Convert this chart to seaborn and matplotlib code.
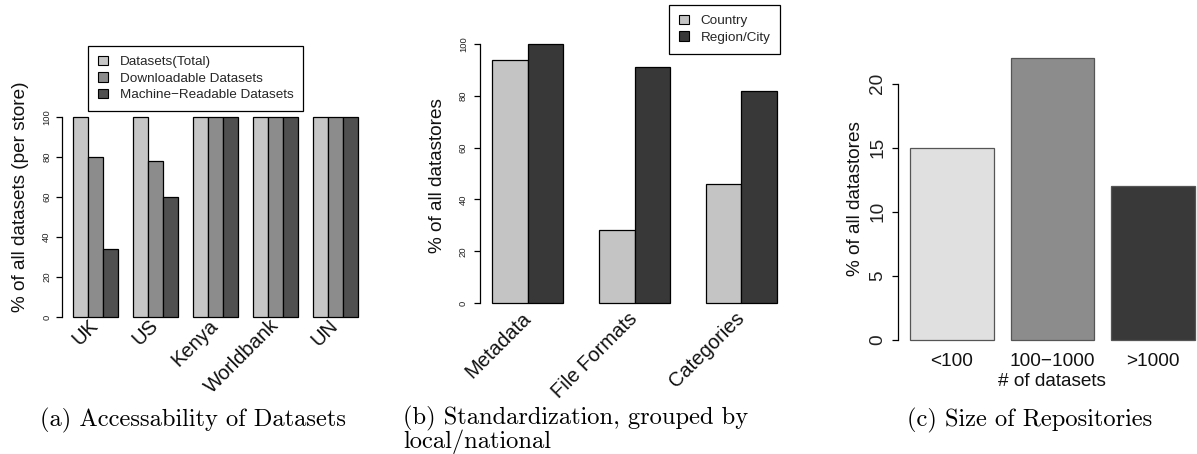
import numpy as np
import pandas as pd
import matplotlib
matplotlib.use("Agg")
import matplotlib.pyplot as plt
from matplotlib.patches import Patch
import seaborn as sns

# ---------------- data ----------------
stores = ["UK", "US", "Kenya", "Worldbank", "UN"]
access_types = ["Datasets(Total)", "Downloadable Datasets", "Machine\u2212Readable Datasets"]
total_pct = [100, 100, 100, 100, 100]
download_pct = [80, 78, 100, 100, 100]
machine_pct = [34, 60, 100, 100, 100]

std_aspects = ["Metadata", "File Formats", "Categories"]
scopes = ["Country", "Region/City"]
country_pct = [94, 28, 46]
region_pct = [100, 91, 82]

size_bins = ["<100", "100\u22121000", ">1000"]
size_pct = [15, 22, 12]

caption_a = "(a) Accessability of Datasets"
caption_b = "(b) Standardization, grouped by\nlocal/national"
caption_c = "(c) Size of Repositories"

# ---------------- style ----------------
sns.set_theme(style="white")
plt.rcParams["font.family"] = ["Liberation Sans", "DejaVu Sans"]
plt.rcParams["axes.unicode_minus"] = True

W, H = 1197, 454
DPI = 100
fig = plt.figure(figsize=(W / DPI, H / DPI), dpi=DPI)
fig.patch.set_facecolor("white")


def px_axes(x0, y0, x1, y1):
    return fig.add_axes([x0 / W, 1 - y1 / H, (x1 - x0) / W, (y1 - y0) / H])


def style_r_axis(ax, lo, hi, ticks, fs, pad, ylab, lab_x_px, lab_y_px, box):
    x0, y0, x1, y1 = box
    for s in ["top", "right", "bottom"]:
        ax.spines[s].set_visible(False)
    ax.spines["left"].set_bounds(lo, hi)
    ax.spines["left"].set_linewidth(0.9)
    ax.spines["left"].set_color("black")
    ax.set_yticks(ticks)
    ax.tick_params(axis="y", left=True, length=4, width=0.9, color="black",
                   labelsize=fs, pad=pad, labelcolor="#222222")
    for t in ax.get_yticklabels():
        t.set_rotation(90)
        t.set_ha("center")
        t.set_va("center")
    ax.set_ylabel(ylab, fontsize=13.7, va="center", color="#111111")
    ax.yaxis.set_label_coords((lab_x_px - x0) / (x1 - x0), (y1 - lab_y_px) / (y1 - y0))
    ax.grid(False)
    ax.set_facecolor("none")


def r_legend(ax, colors, labels, x_px, y_px):
    leg = ax.legend(handles=[Patch(facecolor=c, edgecolor="black", linewidth=0.8) for c in colors],
                    labels=labels, loc="upper left",
                    bbox_to_anchor=(x_px / W, 1 - y_px / H), bbox_transform=fig.transFigure,
                    borderaxespad=0, fontsize=9.7, frameon=True, fancybox=False,
                    handlelength=0.75, handleheight=0.7, handletextpad=0.85,
                    labelspacing=0.3, borderpad=0.74)
    leg.get_frame().set_edgecolor("black")
    leg.get_frame().set_linewidth(0.9)
    leg.get_frame().set_alpha(1)
    return leg


# ---------------- panel (a) ----------------
box_a = (62, 67, 369, 326.6)
ax_a = px_axes(*box_a)
df_a = pd.DataFrame({
    "store": stores * 3,
    "type": [access_types[0]] * 5 + [access_types[1]] * 5 + [access_types[2]] * 5,
    "value": total_pct + download_pct + machine_pct,
})
pal_a = ["#C6C6C6", "#8C8C8C", "#505050"]
sns.barplot(data=df_a, x="store", y="value", hue="type", order=stores,
            hue_order=access_types, palette=pal_a, width=0.75, gap=0,
            saturation=1, edgecolor="black", linewidth=0.9, errorbar=None,
            legend=False, ax=ax_a)
ax_a.set_xlim(-0.558, 4.558)
ax_a.set_ylim(-4.8, 124.8)
style_r_axis(ax_a, 0, 100, [0, 20, 40, 60, 80, 100], 6.8, 7.0,
             "% of all datasets (per store)", 21, 197, box_a)
ax_a.set_xlabel("")
ax_a.set_xticks(range(len(stores)))
ax_a.set_xticklabels(stores, fontsize=14.5, rotation=45, ha="right", va="center",
                     rotation_mode="anchor", color="#111111")
ax_a.tick_params(axis="x", bottom=False, pad=-9)
r_legend(ax_a, pal_a, access_types, 88, 46)

# ---------------- panel (b) ----------------
box_b = (480, 33.6, 789, 313.4)
ax_b = px_axes(*box_b)
df_b = pd.DataFrame({
    "aspect": std_aspects * 2,
    "scope": [scopes[0]] * 3 + [scopes[1]] * 3,
    "value": country_pct + region_pct,
})
pal_b = ["#C4C4C4", "#383838"]
sns.barplot(data=df_b, x="aspect", y="value", hue="scope", order=std_aspects,
            hue_order=scopes, palette=pal_b, width=2 / 3, gap=0, saturation=1,
            edgecolor="black", linewidth=0.9, errorbar=None, legend=False, ax=ax_b)
ax_b.set_xlim(-0.445, 2.445)
ax_b.set_ylim(-4, 104)
style_r_axis(ax_b, 0, 100, [0, 20, 40, 60, 80, 100], 6.8, 8.0,
             "% of all datastores", 437, 176, box_b)
ax_b.set_xlabel("")
ax_b.set_xticks(range(len(std_aspects)))
ax_b.set_xticklabels(std_aspects, fontsize=14.5, rotation=45, ha="right", va="center",
                     rotation_mode="anchor", color="#111111")
ax_b.tick_params(axis="x", bottom=False, pad=-4.5)
r_legend(ax_b, pal_b, scopes, 669, 5)

# ---------------- panel (c) ----------------
box_c = (898, 46.7, 1207, 351.3)
ax_c = px_axes(*box_c)
df_c = pd.DataFrame({"bin": size_bins, "value": size_pct})
pal_c = ["#E0E0E0", "#8C8C8C", "#393939"]
sns.barplot(data=df_c, x="bin", y="value", hue="bin", order=size_bins,
            hue_order=size_bins, palette=pal_c, width=1 / 1.2, saturation=1,
            edgecolor="#555555", linewidth=0.9, errorbar=None, legend=False, ax=ax_c)
ax_c.set_xlim(-0.536, 2.536)
ax_c.set_ylim(-0.88, 22.88)
style_r_axis(ax_c, 0, 20, [0, 5, 10, 15, 20], 13.7, 10.5,
             "% of all datastores", 855, 199, box_c)
ax_c.set_xticks(range(len(size_bins)))
ax_c.set_xticklabels(size_bins, fontsize=13.7, color="#111111")
ax_c.tick_params(axis="x", bottom=False, pad=-5)
ax_c.set_xlabel("# of datasets", fontsize=13.7, color="#111111")
ax_c.xaxis.set_label_coords((1052 - 898) / (1207 - 898), (351.3 - 381) / (351.3 - 46.7))
ax_c.xaxis.label.set_va("center")

# ---------------- captions ----------------
cap_font = dict(family="cmr10", fontsize=17.6, color="black")
fig.text(40 / W, 1 - 426 / H, caption_a, ha="left", va="baseline", **cap_font)
fig.text(403 / W, 1 - 448 / H, caption_b, ha="left", va="baseline",
         linespacing=0.92, multialignment="left", **cap_font)
fig.text(907 / W, 1 - 426 / H, caption_c, ha="left", va="baseline", **cap_font)

fig.savefig("out.png", dpi=DPI, facecolor="white")
